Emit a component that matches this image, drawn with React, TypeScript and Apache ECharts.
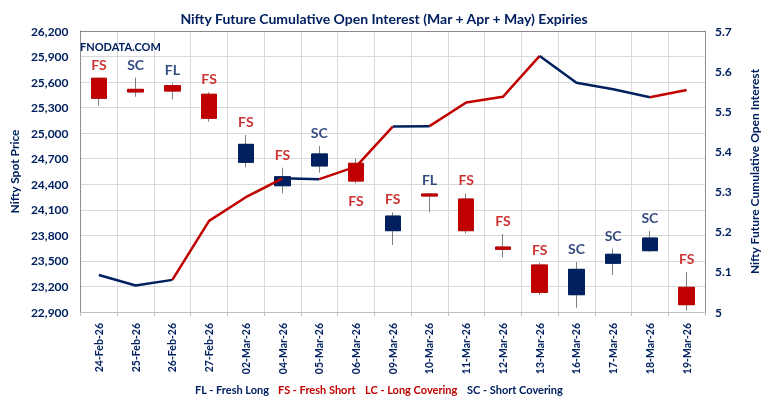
import React, { useEffect, useRef } from "react";
import * as echarts from "echarts";

const categories = [
  "24-Feb-26", "25-Feb-26", "26-Feb-26", "27-Feb-26", "02-Mar-26", "04-Mar-26",
  "05-Mar-26", "06-Mar-26", "09-Mar-26", "10-Mar-26", "11-Mar-26", "12-Mar-26",
  "13-Mar-26", "16-Mar-26", "17-Mar-26", "18-Mar-26", "19-Mar-26",
];
const openP = [25645, 25515, 25558, 25457, 24658, 24383, 24615, 24646, 23855, 24286, 24227, 23663, 23452, 23103, 23472, 23620, 23190];
const closeP = [25410, 25484, 25495, 25175, 24869, 24489, 24756, 24438, 24027, 24262, 23855, 23636, 23131, 23401, 23578, 23769, 22986];
const lowP = [25323, 25428, 25398, 25135, 24599, 24294, 24536, 24411, 23687, 24071, 23824, 23542, 23100, 22950, 23334, 23605, 22915];
const highP = [25650, 25652, 25586, 25480, 24979, 24595, 24849, 24700, 24071, 24294, 24294, 23816, 23479, 23487, 23643, 23851, 23370];
const oi = [5.092, 5.066, 5.080, 5.227, 5.286, 5.333, 5.331, 5.362, 5.462, 5.463, 5.522, 5.536, 5.638, 5.571, 5.555, 5.535, 5.553];
const tags = ["FS", "SC", "FL", "FS", "FS", "FS", "SC", "FS", "FS", "FL", "FS", "FS", "FS", "SC", "SC", "SC", "FS"];
const tagBelow = [false, false, false, false, false, false, false, true, false, false, false, false, false, false, false, false, false];
const legendCodes = ["FL", "FS", "LC", "SC"];
const legendTexts = ["FL - Fresh Long", "FS - Fresh Short", "LC - Long Covering", "SC - Short Covering"];
const leftTicks = { min: 22900, max: 26200, step: 300 };
const rightTicks = { min: 5, max: 5.7, step: 0.1 };

const RED = "#C00000";
const NAVY = "#002060";
const FONT = "Lato";
const legendX = [195, 278, 365, 467];

const tagColor = (t: string) => (t === "FS" || t === "LC" ? RED : NAVY);

function buildLineSeries() {
  const out: any[] = [];
  let i = 1;
  while (i < oi.length) {
    const col = tagColor(tags[i]);
    let j = i;
    while (j + 1 < oi.length && tagColor(tags[j + 1]) === col) j++;
    const data = oi.map((v, k) => (k >= i - 1 && k <= j ? v : null));
    out.push({
      type: "line",
      yAxisIndex: 1,
      data,
      symbol: "none",
      connectNulls: false,
      lineStyle: { color: col, width: 2.5 },
      z: 5,
    });
    i = j + 1;
  }
  return out;
}

export default function App() {
  const ref = useRef<HTMLDivElement>(null);
  useEffect(() => {
    if (!ref.current) return;
    const chart = echarts.init(ref.current, null, { renderer: "svg" });
    const axisLabelStyle = { color: NAVY, fontWeight: "bold" as const, fontSize: 12, fontFamily: FONT };
    const option: any = {
      animation: false,
      textStyle: { fontFamily: FONT },
      title: [
        {
          text: "Nifty Future Cumulative Open Interest (Mar + Apr + May) Expiries",
          left: "center",
          top: 6,
          textStyle: { color: NAVY, fontSize: 14, fontWeight: "bold", fontFamily: FONT },
        },
        {
          text: "FNODATA.COM",
          left: 75,
          top: 36,
          textStyle: { color: NAVY, fontSize: 11, fontWeight: "bold", fontFamily: FONT },
        },
      ],
      graphic: legendTexts.map((t, i) => ({
        type: "text",
        x: legendX[i],
        y: 389,
        style: {
          text: t,
          fill: tagColor(legendCodes[i]),
          font: `bold 11px ${FONT}`,
          verticalAlign: "middle",
        },
      })),
      grid: { left: 71, right: 59, top: 31, bottom: 91 },
      xAxis: [
        {
          type: "category",
          data: categories,
          boundaryGap: true,
          axisLine: { lineStyle: { color: "#bfbfbf" } },
          axisTick: { show: true, length: 4, lineStyle: { color: "#bfbfbf" } },
          axisLabel: { rotate: 90, interval: 0, margin: 11, color: NAVY, fontWeight: "bold", fontSize: 10.5, fontFamily: FONT },
          splitLine: { show: true, interval: 0, lineStyle: { color: "#d9d9d9" } },
        },
        {
          type: "category",
          data: categories,
          position: "top",
          axisLine: { lineStyle: { color: "#7f7f7f", type: "dotted" } },
          axisTick: { show: false },
          axisLabel: { show: false },
          splitLine: { show: false },
        },
      ],
      yAxis: [
        {
          type: "value",
          min: leftTicks.min,
          max: leftTicks.max,
          interval: leftTicks.step,
          name: "Nifty Spot Price",
          nameLocation: "middle",
          nameRotate: 90,
          nameGap: 50,
          nameTextStyle: { color: NAVY, fontWeight: "bold", fontSize: 12, fontFamily: FONT },
          axisLine: { show: true, lineStyle: { color: "#7f7f7f", type: "dotted" } },
          axisTick: { show: false },
          axisLabel: { ...axisLabelStyle, margin: 12, formatter: (v: number) => v.toLocaleString("en-US") },
          splitLine: { show: true, lineStyle: { color: "#d9d9d9" } },
        },
        {
          type: "value",
          min: rightTicks.min,
          max: rightTicks.max,
          interval: rightTicks.step,
          position: "right",
          name: "Nifty Future Cumulative Open Interest",
          nameLocation: "middle",
          nameRotate: 90,
          nameGap: 43,
          nameTextStyle: { color: NAVY, fontWeight: "bold", fontSize: 12, fontFamily: FONT },
          axisLine: { show: true, lineStyle: { color: "#7f7f7f", type: "dotted" } },
          axisTick: { show: false },
          axisLabel: { ...axisLabelStyle, margin: 10 },
          splitLine: { show: false },
        },
      ],
      series: [
        {
          type: "candlestick",
          yAxisIndex: 0,
          barWidth: 16,
          data: categories.map((_, i) => [openP[i], closeP[i], lowP[i], highP[i]]),
          itemStyle: { color: "#7f7f7f", color0: "#7f7f7f", borderColor: "#7f7f7f", borderColor0: "#7f7f7f", borderWidth: 1 },
          z: 2,
        },
        {
          type: "candlestick",
          yAxisIndex: 0,
          barWidth: 16,
          data: categories.map((_, i) => [
            openP[i], closeP[i], Math.min(openP[i], closeP[i]), Math.max(openP[i], closeP[i]),
          ]),
          itemStyle: { color: NAVY, color0: RED, borderColor: NAVY, borderColor0: RED, borderWidth: 1 },
          z: 3,
        },
        {
          type: "scatter",
          yAxisIndex: 0,
          symbolSize: 1,
          itemStyle: { color: "rgba(0,0,0,0)" },
          data: categories.map((_, i) => ({
            value: tagBelow[i] ? lowP[i] : highP[i],
            label: {
              show: true,
              formatter: tags[i],
              position: tagBelow[i] ? "bottom" : "top",
              distance: tagBelow[i] ? 10 : 6,
              color: tagColor(tags[i]),
              fontSize: 14,
              fontWeight: "bold",
              fontFamily: FONT,
            },
          })),
          z: 4,
        },
        ...buildLineSeries(),
      ],
    };
    chart.setOption(option);
    return () => chart.dispose();
  }, []);
  return <div ref={ref} style={{ position: "fixed", left: 0, top: 0, width: 768, height: 403 }} />;
}
